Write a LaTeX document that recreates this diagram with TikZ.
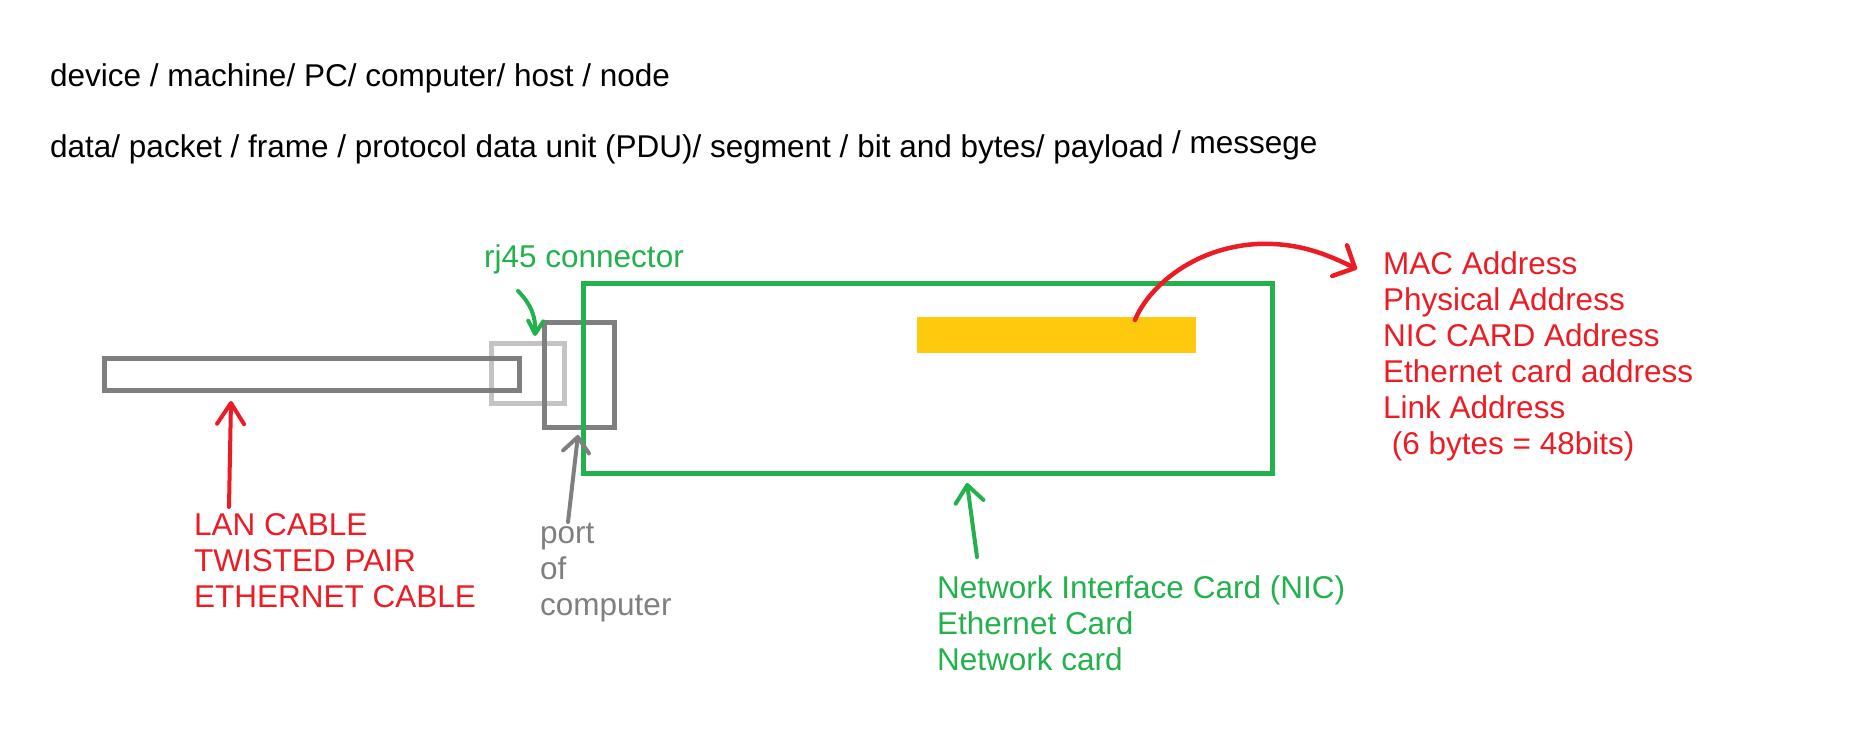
\documentclass[tikz,border=0pt]{standalone}
\usepackage{fontspec}
\setmainfont{Liberation Sans}
\usetikzlibrary{arrows.meta}
\definecolor{pRed}{HTML}{ED1C24}
\definecolor{pGreen}{HTML}{22B14C}
\definecolor{pGray}{HTML}{7F7F7F}
\definecolor{pLight}{HTML}{C3C3C3}
\definecolor{pYellow}{HTML}{FFC90E}
\begin{document}
\begin{tikzpicture}[x=1pt,y=-1pt,
  txt/.style={anchor=base west, inner sep=0pt, font=\fontsize{31.5}{36}\selectfont},
  box/.style={line width=5pt},
  hand/.style={line width=4pt, line cap=round, line join=round},
]
\useasboundingbox[fill=white] (0,0) rectangle (1850,743);

% top texts
\node[txt] (terms1) at (50,87) {device / machine/ PC/ computer/ host / node};
\node[txt] (terms2) at (50,158) {data/ packet / frame / protocol data unit (PDU)/ segment / bit and bytes/ payload};
\node[txt] (terms3) at (1172,154) {/ messege};

% shapes
\draw[box, pLight] (491.5,343.5) rectangle (564.5,403.5);
\draw[box, pGray] (104.5,358.5) rectangle (519.5,390.5);
\draw[box, pGray] (544.5,322.5) rectangle (614.5,427.5);
\draw[box, pGreen] (583.5,283.5) rectangle (1272.5,473.5);
\fill[pYellow] (917,317) rectangle (1196,353);

% labels
\node[txt, text=pGreen] (rj) at (484,268) {rj45 connector};
\node[txt, text=pRed] (mac) at (1383,275) {\vtop{\hbox{MAC Address}\hbox{Physical Address}\hbox{NIC CARD Address}\hbox{Ethernet card address}\hbox{Link Address}\hbox{\ (6 bytes = 48bits)}}};
\node[txt, text=pRed] (lan) at (194,535) {\vtop{\hbox{LAN CABLE}\hbox{TWISTED PAIR}\hbox{ETHERNET CABLE}}};
\node[txt, text=pGray] (port) at (540,543) {\vtop{\hbox{port}\hbox{of}\hbox{computer}}};
\node[txt, text=pGreen] (nic) at (937,598) {\vtop{\hbox{Network Interface Card (NIC)}\hbox{Ethernet Card}\hbox{Network card}}};

% arrow end points
\coordinate (rjTail) at (518,291);
\coordinate (rjTip) at (535,336);
\coordinate (macTail) at (1135,320);
\coordinate (macMid) at (1257,244);
\coordinate (macTip) at (1357,269);
\coordinate (lanTail) at (229,507);
\coordinate (lanTip) at (231,401);
\coordinate (portTail) at (568,522);
\coordinate (portTip) at (578,435);
\coordinate (nicTail) at (977,557);
\coordinate (nicTip) at (967,483);

% arrows
\draw[hand, pGreen, -{Straight Barb[round,length=13pt,width=15pt]}] (rjTail) .. controls (530,303) and (536,316) .. (rjTip);
\draw[hand, pRed, line width=4.5pt, -{Straight Barb[round,length=17pt,width=34pt]}] (macTail) .. controls (1147,290) and (1190,248) .. (macMid) .. controls (1300,242) and (1330,256) .. (macTip);
\draw[hand, pRed, -{Straight Barb[round,length=21pt,width=27pt]}] (lanTail) -- (lanTip);
\draw[hand, pGray, -{Straight Barb[round,length=15pt,width=26pt]}] (portTail) -- (portTip);
\draw[hand, pGreen, -{Straight Barb[round,length=17pt,width=28pt]}] (nicTail) -- (nicTip);
\end{tikzpicture}
\end{document}
